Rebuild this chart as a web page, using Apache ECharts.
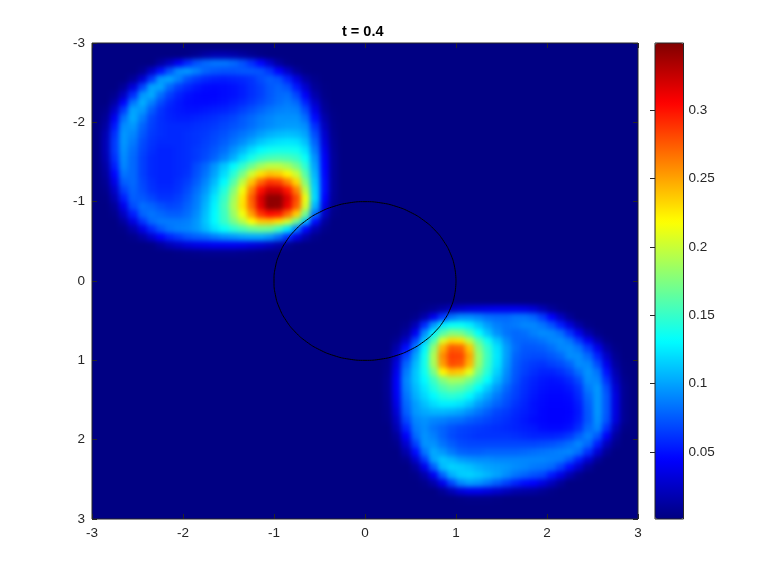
<!DOCTYPE html>
<html><head><meta charset="utf-8">
<style>html,body{margin:0;padding:0;background:#fff}#c{width:778px;height:584px}</style>
<script src="https://cdn.jsdelivr.net/npm/echarts@6/dist/echarts.min.js"></script>
</head><body><div id="c"></div>
<script>
// Values are thousandths of the plotted quantity. Each row: [first column, values...]
const gridCells = 60;
const backgroundValue = 2;
const lobeAFirstRow = 1;
const lobeA = [
[10,4,8,14,18,18,16,12,8,4],
[7,12,24,40,58,72,80,84,84,80,72,60,46,28,12,4],
[5,8,26,50,72,92,96,88,78,74,72,72,74,74,72,62,44,26,10,3],
[4,10,30,64,96,100,88,72,64,58,55,54,56,58,62,70,76,72,56,34,14,5],
[3,10,32,68,100,100,80,66,58,52,48,47,48,50,54,60,66,74,78,72,52,28,9,3],
[2,6,24,60,96,102,82,66,56,50,47,46,46,48,50,54,60,66,74,80,82,68,42,16,4],
[2,14,44,84,104,88,70,58,52,48,47,47,48,50,54,58,64,70,76,82,86,80,56,26,7],
[1,5,26,64,100,96,76,62,55,52,50,50,52,54,56,60,66,72,78,84,88,90,88,70,36,10,3],
[1,9,40,82,102,86,68,60,56,54,54,56,58,60,64,68,74,80,86,90,94,94,94,82,48,16,4],
[1,13,52,92,96,78,66,60,58,58,58,60,62,64,68,72,76,82,88,92,96,98,98,92,60,22,5],
[1,18,60,96,90,74,64,60,58,58,60,62,64,68,72,78,84,90,98,104,108,110,108,100,70,28,6],
[1,20,64,96,86,70,62,58,58,58,60,62,66,70,76,84,92,102,112,118,122,124,122,110,78,32,8],
[1,20,64,94,82,68,60,56,56,58,60,64,68,74,82,94,106,120,130,136,138,138,136,122,86,38,9],
[1,18,60,92,80,66,58,56,56,58,60,64,70,78,90,104,122,138,150,156,158,156,150,134,94,42,10],
[1,14,54,90,80,66,58,56,56,58,60,70,80,95,112,130,148,168,186,196,196,188,172,146,100,44,10],
[1,11,46,84,80,66,58,56,56,58,62,72,84,100,120,145,172,202,228,240,236,222,200,160,106,46,10],
[1,8,36,76,80,68,60,56,56,60,66,76,90,108,130,160,196,238,270,288,284,262,232,176,112,48,10],
[1,5,26,66,78,70,62,58,58,62,70,82,96,116,142,176,214,262,300,322,320,298,262,196,116,48,10],
[1,3,18,54,76,74,68,62,62,66,74,86,102,124,150,186,226,274,318,344,344,318,280,212,118,44,9],
[2,10,38,70,82,78,72,68,70,78,88,106,128,154,190,228,270,314,344,342,312,274,205,106,36,6],
[2,5,24,54,78,84,80,76,76,82,92,110,130,152,184,214,252,288,302,298,270,235,170,82,24,4],
[2,2,12,34,62,80,86,86,86,88,96,112,130,150,172,194,218,236,238,228,204,168,110,48,12],
[3,4,16,36,58,74,84,88,90,96,108,122,134,146,156,166,170,168,152,124,86,46,18,5],
[4,5,14,28,44,56,64,72,76,80,86,92,96,100,102,102,96,82,60,36,16,5],
[6,3,11,20,26,32,36,38,40,40,40,38,34,30,24,16,8,3],
[9,3,4,5,6,6,6,6,5,4,3]
];
const lobeBFirstRow = 33;
const lobeB = [
[36,4,8,14,22,28,32,34,36,38,38,38,36,30,20,10,4],
[35,5,16,38,64,84,92,92,88,82,80,80,84,84,78,64,44,24,9],
[34,5,20,58,96,124,134,134,126,112,98,88,84,86,90,90,84,72,54,32,14,4],
[33,3,12,40,92,128,160,175,172,155,132,112,94,84,80,82,88,92,90,82,62,38,16,5],
[33,8,26,68,112,155,205,232,228,195,160,136,112,92,80,78,80,84,90,92,84,64,40,18,5],
[33,16,48,88,128,180,245,275,272,238,176,148,122,98,82,74,74,76,82,90,92,84,64,38,14,4],
[32,3,24,66,100,136,190,258,284,282,250,184,152,124,98,78,72,70,70,74,80,92,92,80,56,26,8],
[32,5,32,78,108,138,188,252,280,276,244,182,150,122,96,76,68,64,62,66,70,78,92,90,70,38,12,3],
[32,6,38,86,112,136,172,222,240,236,210,170,144,116,92,74,66,60,56,56,60,68,82,94,84,50,18,4],
[32,8,42,90,112,130,152,176,188,186,172,152,132,108,88,72,62,56,52,50,52,58,70,92,90,60,24,6],
[32,8,42,88,108,124,142,158,166,162,150,132,114,96,80,68,60,54,50,48,48,52,62,86,96,70,30,8],
[32,7,40,84,104,118,130,142,146,142,130,114,100,86,74,66,58,52,48,46,46,48,58,80,96,74,34,8],
[32,6,36,80,98,110,120,126,126,122,112,98,88,78,70,62,56,50,47,45,45,46,54,76,96,74,34,8],
[32,5,30,76,96,102,106,106,104,100,92,84,76,68,64,58,54,50,46,44,44,45,52,74,96,74,34,8],
[32,4,24,68,90,94,90,88,84,82,76,72,68,64,60,56,52,48,46,44,44,46,54,74,94,72,32,8],
[33,18,56,86,92,84,78,72,68,66,64,62,60,58,56,54,52,48,47,47,50,60,80,90,60,22,4],
[33,10,42,80,94,88,78,70,66,64,62,62,62,62,60,58,56,56,56,58,64,76,88,74,42,12],
[33,5,28,66,94,94,84,76,70,68,68,68,68,68,68,68,68,70,72,76,82,90,80,54,22,6],
[34,16,48,84,102,96,86,78,76,76,78,78,78,78,80,82,84,86,88,90,82,60,30,9],
[34,6,28,64,100,112,106,98,94,92,92,90,90,90,90,90,90,88,86,74,54,30,10],
[35,12,38,76,108,116,114,110,104,100,98,96,92,90,86,84,80,66,48,28,10],
[35,4,16,40,78,104,114,116,112,106,100,92,84,78,72,68,52,36,18,6],
[36,5,16,38,68,90,98,94,86,76,66,56,48,44,34,22,10],
[38,9,20,32,38,38,34,28,22,16,14,12,8,4],
[40,3,4,4,4,3]
];
// Central circle outline, data coordinates at 10 degree steps
const circleX = [1,0.985,0.94,0.866,0.766,0.643,0.5,0.342,0.174,0,-0.174,-0.342,-0.5,-0.643,-0.766,-0.866,-0.94,-0.985,-1,-0.985,-0.94,-0.866,-0.766,-0.643,-0.5,-0.342,-0.174,0,0.174,0.342,0.5,0.643,0.766,0.866,0.94,0.985,1];
const circleY = [0,0.174,0.342,0.5,0.643,0.766,0.866,0.94,0.985,1,0.985,0.94,0.866,0.766,0.643,0.5,0.342,0.174,0,-0.174,-0.342,-0.5,-0.643,-0.766,-0.866,-0.94,-0.985,-1,-0.985,-0.94,-0.866,-0.766,-0.643,-0.5,-0.342,-0.174,0];
const colorbarTicks = [0.05,0.1,0.15,0.2,0.25,0.3];
const jetColors = ['#000080','#0000ff','#0080ff','#00ffff','#80ff80','#ffff00','#ff8000','#ff0000','#800000'];
const titleText = 't = 0.4';

const ink = '#262626';
const font = 'Liberation Sans';
const labelSize = 13.5;
const top_ = 1; // zlevel of everything except the field itself
const cats = Array.from({length: gridCells}, (_, i) => i);
const matrix = cats.map(() => cats.map(() => backgroundValue));
function place(rows, first) {
  rows.forEach((r, i) => r.slice(1).forEach((v, j) => { matrix[first + i][r[0] + j] = v; }));
}
place(lobeA, lobeAFirstRow);
place(lobeB, lobeBFirstRow);
const heat = [];
matrix.forEach((row, y) => row.forEach((v, x) => heat.push([x, y, v / 1000])));

const tickStyle = {show: true, inside: true, length: 5, lineStyle: {color: ink, width: 1}};
const coordAxis = (extra) => Object.assign({
  type: 'value', min: -3, max: 3, interval: 1, gridIndex: 0, z: 10, zlevel: top_,
  splitLine: {show: false}, axisLine: {show: false, onZero: false}, axisTick: tickStyle,
  axisLabel: {color: ink, fontFamily: font, fontSize: labelSize, margin: 7}
}, extra);

function renderCell(params, api) {
  const c = api.coord([api.value(0), api.value(1)]);
  const s = api.size([1, 1]);
  const x0 = Math.round(c[0] - s[0] / 2), x1 = Math.round(c[0] + s[0] / 2);
  const y0 = Math.round(c[1] - s[1] / 2), y1 = Math.round(c[1] + s[1] / 2);
  return {type: 'rect', silent: true, shape: {x: x0, y: y0, width: x1 - x0, height: y1 - y0},
    style: {fill: api.visual('color')}};
}

const chart = echarts.init(document.getElementById('c'), null, {renderer: 'canvas'});
chart.setOption({
  animation: false,
  title: {text: titleText, left: 342, top: 24, padding: 0, zlevel: top_,
    textStyle: {color: '#000', fontFamily: font, fontSize: 14.5, fontWeight: 'bold'}},
  graphic: [{type: 'rect', zlevel: 0, z: 0, silent: true, shape: {x: 76, y: 27, width: 578, height: 508}, style: {fill: '#000083'}}],
  grid: [
    {left: 92, top: 43, width: 546, height: 476, show: true, z: 10, zlevel: top_, backgroundColor: 'transparent', borderColor: ink, borderWidth: 1},
    {left: 655, top: 43, width: 28.5, height: 476, show: true, z: 10, zlevel: top_, backgroundColor: 'transparent', borderColor: ink, borderWidth: 1}
  ],
  xAxis: [
    {type: 'category', data: cats, gridIndex: 0, show: false},
    coordAxis({position: 'bottom'}),
    coordAxis({position: 'top', axisLabel: {show: false}}),
    {type: 'value', min: 0, max: 1, gridIndex: 1, show: false}
  ],
  yAxis: [
    {type: 'category', data: cats, gridIndex: 0, show: false, inverse: true},
    coordAxis({position: 'left', inverse: true}),
    coordAxis({position: 'right', inverse: true, axisLabel: {show: false}}),
    {type: 'value', gridIndex: 1, min: 0.001, max: 0.349, position: 'right', z: 10, zlevel: top_,
      splitLine: {show: false}, axisLine: {show: false},
      axisTick: {show: true, inside: true, length: 5, customValues: colorbarTicks, lineStyle: {color: ink, width: 1}},
      axisLabel: {color: ink, fontFamily: font, fontSize: labelSize, margin: 5, customValues: colorbarTicks, formatter: v => String(v)}}
  ],
  visualMap: {
    type: 'continuous', seriesIndex: 0, dimension: 2, min: 0.001, max: 0.349, calculable: false, hoverLink: false,
    left: 655, top: 43, itemWidth: 28.5, itemHeight: 476, padding: 0, text: null, zlevel: top_,
    inRange: {color: jetColors}
  },
  series: [
    {type: 'custom', xAxisIndex: 0, yAxisIndex: 0, data: heat, renderItem: renderCell, encode: {x: 0, y: 1}, progressive: 0, silent: true, z: 2, zlevel: 0},
    {type: 'line', xAxisIndex: 1, yAxisIndex: 1, data: circleX.map((x, i) => [x, circleY[i]]), smooth: true, showSymbol: false, z: 5, zlevel: top_,
      lineStyle: {color: '#000', width: 1}}
  ]
});
// Soften the coarse cell edges of the field layer and trim it to the plot frame.
const fieldLayer = chart.getZr().painter.getLayer(0).dom;
fieldLayer.style.filter = 'blur(2.4px)';
fieldLayer.style.clipPath = 'inset(43px 140px 65px 92px)';
</script></body></html>
